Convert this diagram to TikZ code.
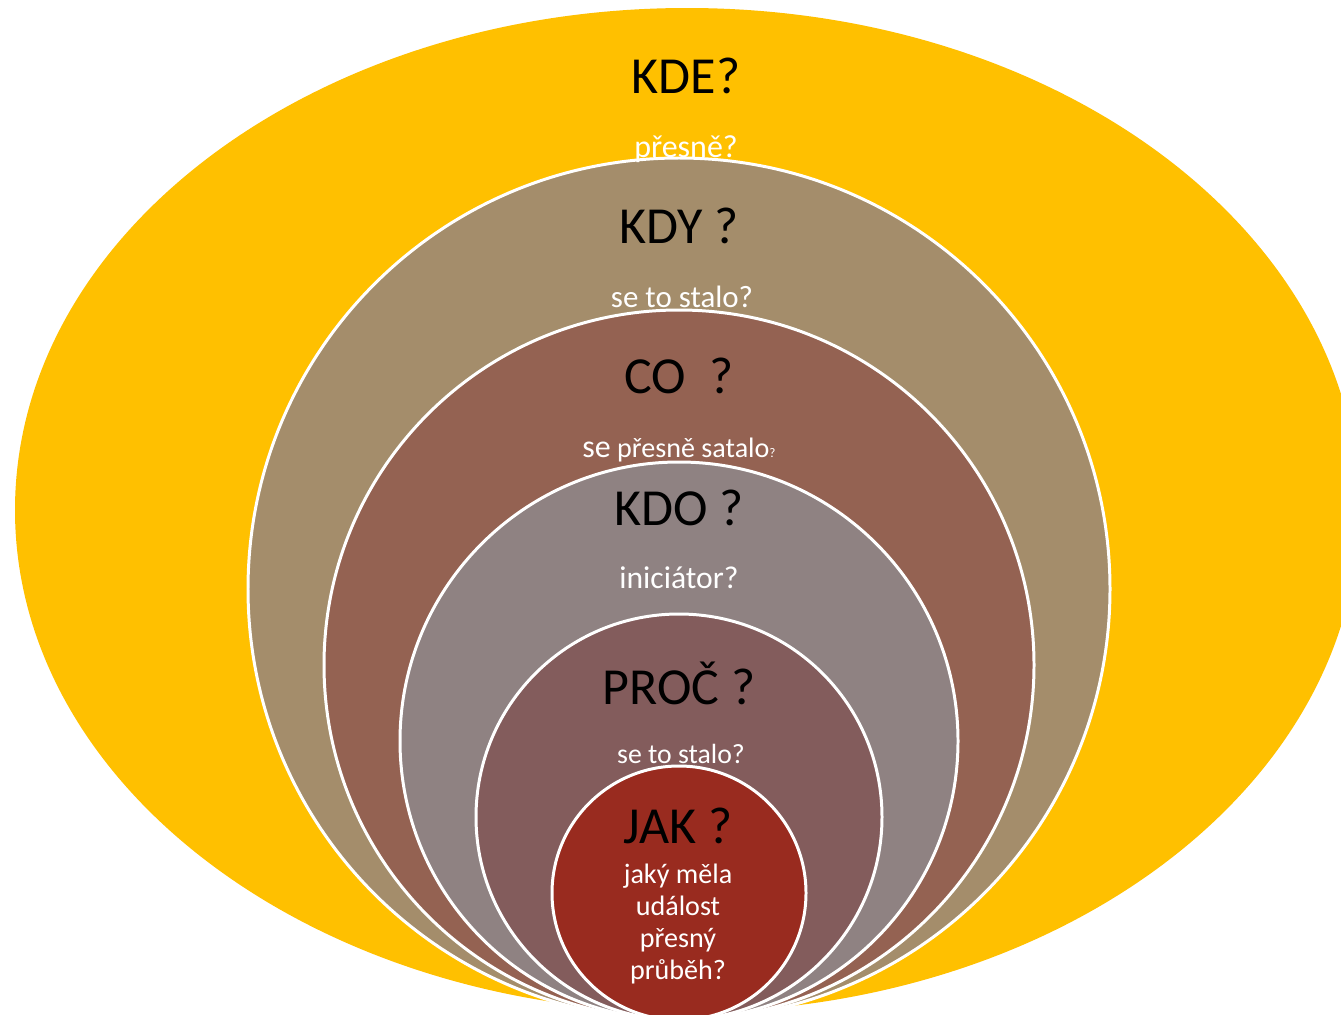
\documentclass[tikz,border=0pt]{standalone}
\usepackage{fontspec}
\setmainfont{Carlito}

\definecolor{kdeyellow}{HTML}{FFC000}
\definecolor{kdytan}{HTML}{A48D6B}
\definecolor{cobrown}{HTML}{946252}
\definecolor{kdogray}{HTML}{8F8282}
\definecolor{procmauve}{HTML}{835C5C}
\definecolor{jakred}{HTML}{992B1F}

\tikzset{
	ring/.style={draw=white, line width=1.7pt},
	question/.style={anchor=base, inner sep=0pt, text=black, font=\fontsize{29.6}{34}\selectfont},
	hint/.style={anchor=base, inner sep=0pt, text=white, font=\fontsize{#1}{18.2}\selectfont},
	hint/.default=17.6
}

\begin{document}
\begin{tikzpicture}[x=0.02cm, y=-0.02cm]
	\useasboundingbox (0,0) rectangle (1341,1014);
	\clip (0,0) rectangle (1341,1014);
	\fill[white] (0,0) rectangle (1341,1014);

	\fill[kdeyellow] (687,510) ellipse [x radius=672, y radius=502];
	\draw[ring, fill=kdytan] (679,589) circle [radius=431];
	\draw[ring, fill=cobrown] (679,665) circle [radius=355];
	\draw[ring, fill=kdogray] (679,741) circle [radius=279];
	\draw[ring, fill=procmauve] (679,817) circle [radius=203];
	\draw[ring, fill=jakred] (679,893) circle [radius=127];

	\node[question] (kde) at (686,93) {KDE?};
	\node[hint=18.2] (kdehint) at (686,157) {přesně?};
	\node[question] (kdy) at (679,243) {KDY ?};
	\node[hint] (kdyhint) at (682,307) {se to stalo?};
	\node[question] (co) at (679,393) {CO\ \ ?};
	\node[hint=16] (cohint) at (679,457) {{\fontsize{18.2}{20}\selectfont se} přesně satalo{\fontsize{7.5}{9}\selectfont ?}};
	\node[question] (kdo) at (679,525) {KDO ?};
	\node[hint=18] (kdohint) at (679,588) {iniciátor?};
	\node[question] (proc) at (679,704) {PROČ ?};
	\node[hint=15.8] (prochint) at (681,763) {se to stalo?};
	\node[question] (jak) at (678,843) {JAK ?};
	\node[hint=16, align=center] (jakhint) at (678,979) {jaký měla\\událost\\přesný\\průběh?};
\end{tikzpicture}
\end{document}
